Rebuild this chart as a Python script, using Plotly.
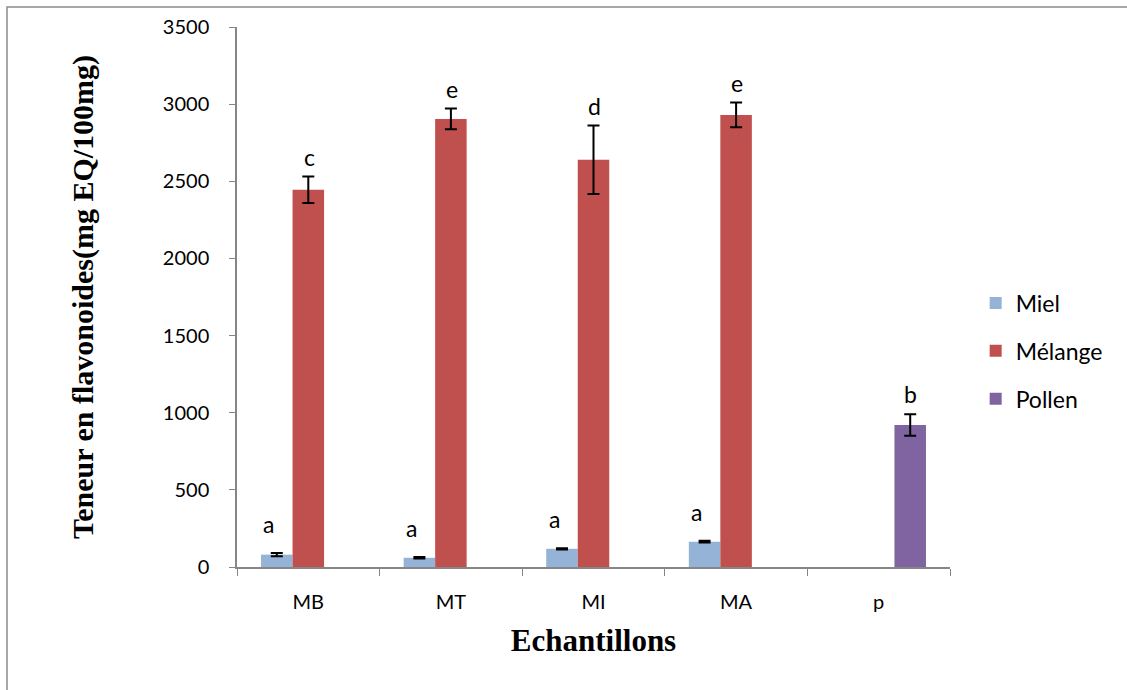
import plotly.graph_objects as go

categories = ["MB", "MT", "MI", "MA", "p"]
miel = [80, 60, 118, 164, None]
miel_err = [10, 5, 4, 6, 0]
melange = [2445, 2904, 2639, 2930, None]
melange_err = [86, 67, 222, 80, 0]
pollen = [None, None, None, None, 920]
pollen_err = [0, 0, 0, 0, 70]
miel_letters = ["a", "a", "a", "a", ""]
melange_letters = ["c", "e", "d", "e", ""]
pollen_letters = ["", "", "", "", "b"]

colors = {"Miel": "#95B3D7", "Mélange": "#C0504D", "Pollen": "#8064A2"}
sans = "Lato, Open Sans, sans-serif"
serif = "Liberation Serif, Times New Roman, serif"
tick_font = dict(family=sans, size=20, color="#000000")

fig = go.Figure()
series = [("Miel", miel, miel_err), ("Mélange", melange, melange_err), ("Pollen", pollen, pollen_err)]
for name, vals, errs in series:
    fig.add_trace(go.Bar(
        x=categories, y=vals, name=name,
        marker=dict(color=colors[name], line=dict(width=0)),
        error_y=dict(type="data", array=errs, visible=True, color="#000000", thickness=2, width=6),
        legendgroup=name,
    ))

bar_px = 31.5
xshifts = {"Miel": -bar_px - 8, "Mélange": 1, "Pollen": bar_px}
yshifts = {"Miel": 13, "Mélange": 4, "Pollen": 4}
for (name, vals, errs), letters in zip(series, [miel_letters, melange_letters, pollen_letters]):
    for c, v, e, t in zip(categories, vals, errs, letters):
        if v is None or not t:
            continue
        fig.add_annotation(x=c, y=v + e, text=t, showarrow=False, xref="x", yref="y",
                           xshift=xshifts[name], yanchor="bottom", yshift=yshifts[name],
                           font=dict(family=sans, size=23, color="#000000"))

fig.add_shape(type="rect", xref="paper", yref="paper", x0=-0.3226, x1=1.40, y0=-0.40, y1=1.037,
              line=dict(color="#8c8c8c", width=1.5), fillcolor="rgba(0,0,0,0)", layer="below")

fig.update_layout(
    width=1127, height=690,
    margin=dict(l=237, r=177, t=27, b=123),
    paper_bgcolor="white", plot_bgcolor="white",
    barmode="group", bargap=0.337, bargroupgap=0,
    showlegend=True,
    legend=dict(x=1.036, y=0.40, xanchor="left", yanchor="middle",
                font=dict(family=sans, size=23, color="#000000"),
                tracegroupgap=15, itemwidth=30, bgcolor="rgba(0,0,0,0)"),
    xaxis=dict(
        showline=True, linecolor="#868686", linewidth=1.5,
        ticks="outside", ticklen=7, tickcolor="#868686", tickson="boundaries",
        tickfont=tick_font, ticklabelstandoff=16,
        title=dict(text="<b>Echantillons</b>", font=dict(family=serif, size=31, color="#000000"), standoff=18),
    ),
    yaxis=dict(
        range=[0, 3500], dtick=500, showgrid=False, zeroline=False,
        showline=True, linecolor="#868686", linewidth=1.5,
        ticks="outside", ticklen=6, tickcolor="#868686",
        tickfont=tick_font, ticklabelstandoff=16,
        title=dict(text="<b>Teneur en flavonoides(mg EQ/100mg)</b>", font=dict(family=serif, size=30, color="#000000"), standoff=60),
    ),
)

fig.write_html("out.html", config={"displayModeBar": False},
               post_script="document.body.style.margin='0';document.body.style.overflow='hidden';")
